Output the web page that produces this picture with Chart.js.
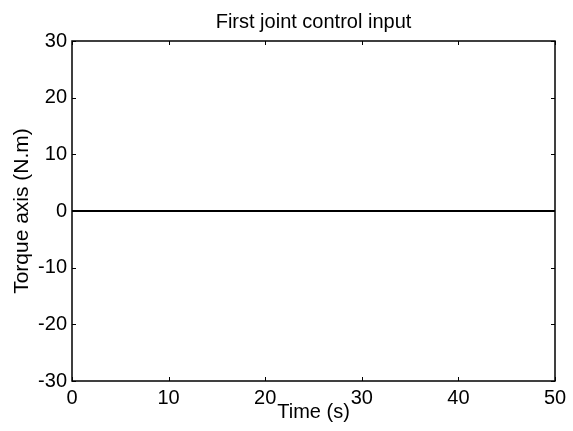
<!DOCTYPE html>
<html>
<head>
<meta charset="utf-8">
<script src="https://cdn.jsdelivr.net/npm/chart.js@4/dist/chart.umd.min.js"></script>
<style>
  html, body { margin: 0; padding: 0; background: #fff; }
</style>
</head>
<body>
<canvas id="myChart" width="573" height="431"></canvas>
<script>
const timeValues = [0, 5, 10, 15, 20, 25, 30, 35, 40, 45, 50];
const torqueValues = [0, 0, 0, 0, 0, 0, 0, 0, 0, 0, 0];
const xTicks = [0, 10, 20, 30, 40, 50];
const yTicks = [-30, -20, -10, 0, 10, 20, 30];
const chartTitle = "First joint control input";

const font = "'Liberation Sans', Arial, sans-serif";

// box round the plot, small inward ticks, and the title over the plot area
const matlabBox = {
  id: "matlabBox",
  afterDraw(chart) {
    const ctx = chart.ctx;
    const a = chart.chartArea;
    const xs = chart.scales.x, ys = chart.scales.y;
    ctx.save();
    ctx.strokeStyle = "#000";
    ctx.lineWidth = 1;
    ctx.beginPath();
    xTicks.forEach(v => {
      const px = Math.round(xs.getPixelForValue(v)) + 0.5;
      ctx.moveTo(px, a.bottom); ctx.lineTo(px, a.bottom - 4);
      ctx.moveTo(px, a.top); ctx.lineTo(px, a.top + 4);
    });
    yTicks.forEach(v => {
      const py = Math.round(ys.getPixelForValue(v)) + 0.5;
      ctx.moveTo(a.left, py); ctx.lineTo(a.left + 4, py);
      ctx.moveTo(a.right, py); ctx.lineTo(a.right - 4, py);
    });
    ctx.stroke();
    ctx.lineWidth = 1.5;
    ctx.strokeRect(a.left, a.top, a.right - a.left, a.bottom - a.top);
    ctx.fillStyle = "#000";
    ctx.font = "20px " + font;
    ctx.textAlign = "center";
    ctx.textBaseline = "alphabetic";
    ctx.fillText(chartTitle, (a.left + a.right) / 2, 28);
    ctx.restore();
  }
};

new Chart("myChart", {
  type: "line",
  data: {
    datasets: [{
      data: timeValues.map((t, i) => ({x: t, y: torqueValues[i]})),
      borderColor: "#000",
      borderWidth: 2,
      pointRadius: 0,
      fill: false,
      tension: 0
    }]
  },
  options: {
    responsive: false,
    animation: false,
    devicePixelRatio: 1,
    layout: {padding: {left: 0, right: 18, top: 41, bottom: 0}},
    plugins: {legend: {display: false}, tooltip: {enabled: false}},
    scales: {
      x: {
        type: "linear",
        min: 0, max: 50,
        afterBuildTicks: s => { s.ticks = xTicks.map(v => ({value: v})); },
        afterFit: s => { s.height = 50; },
        grid: {display: false, drawTicks: false},
        border: {display: false},
        ticks: {color: "#000", font: {family: font, size: 20}, padding: 5, maxRotation: 0, autoSkip: false},
        title: {display: true, text: "Time (s)", color: "#000", font: {family: font, size: 20}, padding: {top: 0, bottom: 7}}
      },
      y: {
        min: -30, max: 30,
        afterBuildTicks: s => { s.ticks = yTicks.map(v => ({value: v})); },
        afterFit: s => { s.width = 72; },
        grid: {display: false, drawTicks: false},
        border: {display: false},
        ticks: {color: "#000", font: {family: font, size: 20}, padding: 5, autoSkip: false},
        title: {display: true, text: "Torque axis (N.m)", color: "#000", font: {family: font, size: 21}, padding: {top: 10, bottom: 0}}
      }
    }
  },
  plugins: [matlabBox]
});
</script>
</body>
</html>
